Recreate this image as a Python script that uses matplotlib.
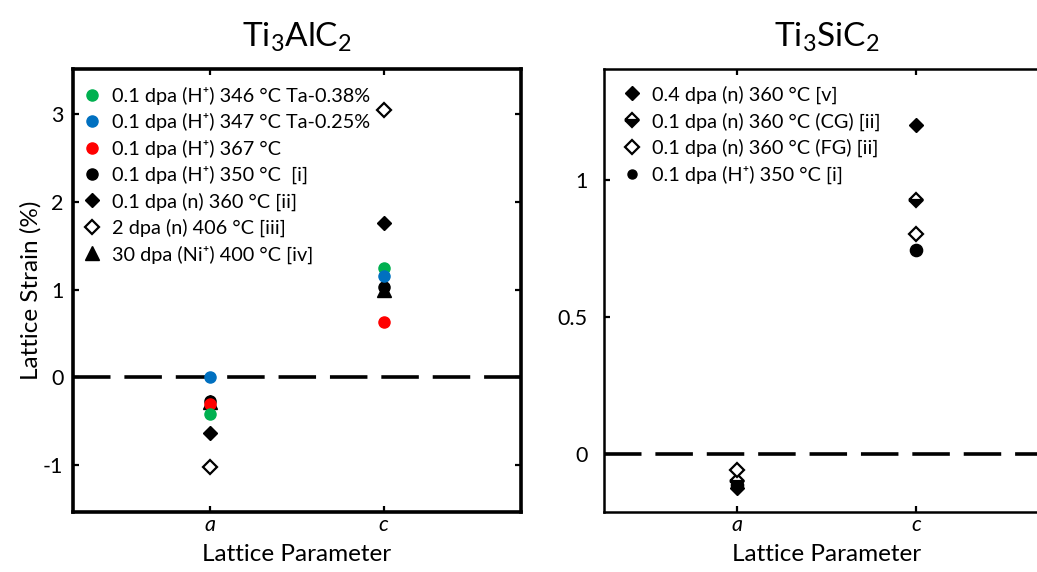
import numpy as np
import matplotlib
matplotlib.use("Agg")
import matplotlib.pyplot as plt
from matplotlib.lines import Line2D

plt.rcParams["font.family"] = ["Lato", "DejaVu Sans"]
plt.rcParams["mathtext.fontset"] = "custom"
plt.rcParams["mathtext.rm"] = "Lato"
plt.rcParams["mathtext.it"] = "Lato:italic"
plt.rcParams["mathtext.bf"] = "Lato:bold"
plt.rcParams["axes.unicode_minus"] = False
plt.rcParams["lines.scale_dashes"] = False

# ---- data -------------------------------------------------------------
params = ["a", "c"]

# Ti3AlC2 lattice strain (%) for a and c
alc_h346_ta038 = [-0.42, 1.25]
alc_h347_ta025 = [0.00, 1.16]
alc_h367 = [-0.30, 0.63]
alc_h350 = [-0.27, 1.03]
alc_n360 = [-0.63, 1.76]
alc_n406 = [-1.02, 3.05]
alc_ni400 = [-0.28, 1.00]

alc_labels = [
    "0.1 dpa (H\u207a) 346 °C Ta-0.38%",
    "0.1 dpa (H\u207a) 347 °C Ta-0.25%",
    "0.1 dpa (H\u207a) 367 °C",
    "0.1 dpa (H\u207a) 350 °C  [i]",
    "0.1 dpa (n) 360 °C [ii]",
    "2 dpa (n) 406 °C [iii]",
    "30 dpa (Ni\u207a) 400 °C [iv]",
]

# Ti3SiC2 lattice strain (%) for a and c
sic_n360_04 = [-0.124, 1.20]
sic_n360_cg = [-0.100, 0.925]
sic_n360_fg = [-0.058, 0.80]
sic_h350 = [-0.115, 0.742]

sic_labels = [
    "0.4 dpa (n) 360 °C [v]",
    "0.1 dpa (n) 360 °C (CG) [ii]",
    "0.1 dpa (n) 360 °C (FG) [ii]",
    "0.1 dpa (H\u207a) 350 °C [i]",
]

alc_yticks = [-1, 0, 1, 2, 3]
alc_yticklabels = ["-1", "0", "1", "2", "3"]
sic_yticks = [0, 0.5, 1]
sic_yticklabels = ["0", "0.5", "1"]

GREEN = "#00b050"
BLUE = "#0070c0"
RED = "#ff0000"
BLACK = "#000000"

x = np.arange(1, len(params) + 1)

fig = plt.figure(figsize=(10.37, 5.72), dpi=100)
ax1 = fig.add_axes([0.0704, 0.1049, 0.4320, 0.7745])
ax2 = fig.add_axes([0.5825, 0.1049, 0.4291, 0.7745])

MS_C = 8.0
MS_D = 7.4
MS_T = 9.5
LEG_FS = 14.3
LAB_FS = 17.5
TITLE_FS = 24


def pts(ax, y, **kw):
    return ax.plot(x, y, linestyle="none", **kw)[0]


# ---- Ti3AlC2 ----------------------------------------------------------
ax1.axhline(0, color=BLACK, lw=2.6, dashes=(27, 10), zorder=1)
h_black = pts(ax1, alc_h350, marker="o", ms=MS_C, color=BLACK, zorder=3)
h_tri = pts(ax1, alc_ni400, marker="^", ms=MS_T, color=BLACK, zorder=3)
h_red = pts(ax1, alc_h367, marker="o", ms=MS_C, color=RED, zorder=4)
h_green = pts(ax1, alc_h346_ta038, marker="o", ms=MS_C, color=GREEN, zorder=5)
h_blue = pts(ax1, alc_h347_ta025, marker="o", ms=MS_C, color=BLUE, zorder=6)
h_dia = pts(ax1, alc_n360, marker="D", ms=MS_D, color=BLACK, zorder=6)
h_odia = pts(ax1, alc_n406, marker="D", ms=MS_D, mfc="white", mec=BLACK,
             mew=1.6, zorder=6)

ax1.legend([h_green, h_blue, h_red, h_black, h_dia, h_odia, h_tri], alc_labels,
           loc="upper left", bbox_to_anchor=(0.0234, 0.959), borderaxespad=0,
           borderpad=0, frameon=False, fontsize=LEG_FS, handlelength=0.85,
           handletextpad=0.6, labelspacing=0.41)

ax1.set_xlim(0.208, 2.792)
ax1.set_ylim(-1.535, 3.515)
ax1.set_yticks(alc_yticks)
ax1.set_yticklabels(alc_yticklabels)
ax1.set_ylabel("Lattice Strain (%)", fontsize=LAB_FS, labelpad=1)
ax1.set_title("Ti$_{3}$AlC$_{2}$", fontsize=TITLE_FS, pad=16)

# ---- Ti3SiC2 ----------------------------------------------------------
ax2.axhline(0, color=BLACK, lw=2.6, dashes=(27, 10), zorder=1)
g_h = pts(ax2, sic_h350, marker="o", ms=MS_C + 0.8, color=BLACK, zorder=3)
g_d = pts(ax2, sic_n360_04, marker="D", ms=MS_D, color=BLACK, zorder=4)
g_cg = pts(ax2, sic_n360_cg, marker="D", ms=MS_D, mfc=BLACK, mfcalt="white",
           fillstyle="bottom", mec=BLACK, mew=1.6, zorder=5)
g_fg = pts(ax2, sic_n360_fg, marker="D", ms=MS_D, mfc="white", mec=BLACK,
           mew=1.6, zorder=6)
leg_h = Line2D([], [], linestyle="none", marker="o", ms=6.5, color=BLACK)

ax2.legend([g_d, g_cg, g_fg, leg_h], sic_labels,
           loc="upper left", bbox_to_anchor=(0.0438, 0.963), borderaxespad=0,
           borderpad=0, frameon=False, fontsize=LEG_FS, handlelength=0.85,
           handletextpad=0.6, labelspacing=0.43)

ax2.set_xlim(0.257, 2.743)
ax2.set_ylim(-0.213, 1.404)
ax2.set_yticks(sic_yticks)
ax2.set_yticklabels(sic_yticklabels)
ax2.set_title("Ti$_{3}$SiC$_{2}$", fontsize=TITLE_FS, pad=16)

for ax, lw, ypad in ((ax1, 2.6, 7), (ax2, 1.8, 12)):
    ax.set_xticks(x)
    ax.set_xticklabels(params, fontstyle="italic")
    ax.set_xlabel("Lattice Parameter", fontsize=LAB_FS, labelpad=7)
    for sp in ax.spines.values():
        sp.set_linewidth(lw)
    ax.tick_params(direction="in", length=4.5, width=1.6, labelsize=15.5,
                   top=True, right=True)
    ax.tick_params(axis="y", pad=ypad)
    ax.tick_params(axis="x", pad=2)

fig.savefig("out.png", dpi=100)
